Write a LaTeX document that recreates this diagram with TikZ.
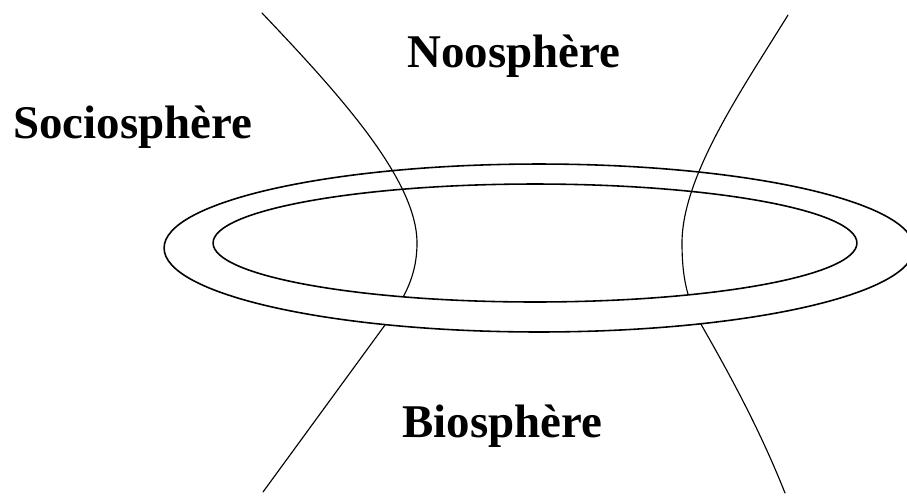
\documentclass[tikz,border=0pt]{standalone}
\usepackage{fontspec}
\setmainfont{Liberation Serif}
\usepackage{tikz}

\begin{document}
\begin{tikzpicture}[x=0.02cm,y=-0.02cm,line cap=round,
  sphere/.style={font=\fontsize{26.7pt}{30pt}\selectfont\bfseries,inner sep=0pt,anchor=base west},
  neck/.style={line width=0.65pt},
  ring/.style={line width=0.9pt}]
\useasboundingbox (0,0) rectangle (907,495);
\clip (0,0) rectangle (907,495);
% the two sheets of the neck
\draw[neck] (262,13) .. controls (340,95) and (417,180) .. (417,243)
  .. controls (417,275) and (405,298) .. (385,325) -- (263,492);
\draw[neck] (788,15) .. controls (745,85) and (682,175) .. (682,243)
  .. controls (682,285) and (690,305) .. (702,326)
  .. controls (730,375) and (760,430) .. (785,493);
% front of the ring hides the neck
\begin{scope}
\clip (0,246) rectangle (907,495);
\fill[white,even odd rule] (539,248) ellipse [x radius=7.5cm,y radius=1.68cm]
  (535,243) ellipse [x radius=6.44cm,y radius=1.18cm];
\end{scope}
\draw[ring] (539,248) ellipse [x radius=7.5cm,y radius=1.68cm];
\draw[ring] (535,243) ellipse [x radius=6.44cm,y radius=1.18cm];
% labels
\node[sphere] (noo) at (407,67) {Noosphère};
\node[sphere] (socio) at (13,138) {Sociosphère};
\node[sphere] (bio) at (402,437) {Biosphère};
\end{tikzpicture}
\end{document}
